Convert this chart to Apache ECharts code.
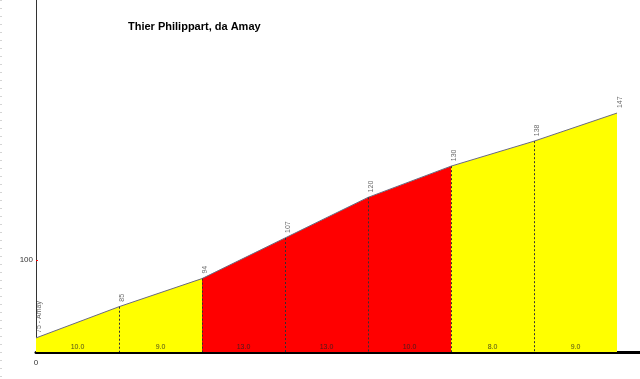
<!DOCTYPE html>
<html><head><meta charset="utf-8">
<script src="https://cdn.jsdelivr.net/npm/echarts@6/dist/echarts.min.js"></script>
<style>html,body{margin:0;padding:0;background:#fff}#c{width:640px;height:379px}</style>
</head><body><div id="c"></div>
<script>
const distances = [0, 0.1, 0.2, 0.3, 0.4, 0.5, 0.6, 0.7];
const elevations = [75, 85, 94, 107, 120, 130, 138, 147];
const pointLabels = ['75 - Amay', '85', '94', '107', '120', '130', '138', '147'];
const gradients = ['10.0', '9.0', '13.0', '13.0', '10.0', '8.0', '9.0'];
const segmentColors = ['#ffff00', '#ffff00', '#ff0000', '#ff0000', '#ff0000', '#ffff00', '#ffff00'];
const yTickLabels = [100];
const xTickLabels = [0];
const yMin = 70.5, yMax = 183.2, xMax = 0.7277;

const series = [];
for (let i = 0; i < gradients.length; i++) {
  series.push({
    type: 'line', symbol: 'none', silent: true,
    data: [[distances[i], elevations[i]], [distances[i + 1], elevations[i + 1]]],
    lineStyle: { color: '#6a6a80', width: 1 },
    areaStyle: { color: segmentColors[i], opacity: 1, origin: 'start' },
    z: 2
  });
}
const dividers = [];
for (let i = 1; i < distances.length - 1; i++) {
  dividers.push([{ coord: [distances[i], elevations[i]] }, { coord: [distances[i], yMin] }]);
}
series.push({
  type: 'scatter', symbolSize: 0, silent: true, z: 5,
  data: distances.map((d, i) => [d, elevations[i]]),
  label: {
    show: true, rotate: 90, position: 'top', distance: 5, align: 'left', verticalAlign: 'middle',
    offset: [0, 3],
    formatter: p => pointLabels[p.dataIndex], fontSize: 7, color: '#444', fontFamily: 'Liberation Sans'
  },
  markLine: {
    silent: true, symbol: 'none', label: { show: false },
    lineStyle: { type: [2, 2], color: '#333', width: 1 },
    data: dividers
  }
});
series.push({
  type: 'scatter', symbolSize: 0, silent: true, z: 5,
  data: gradients.map((g, i) => [(distances[i] + distances[i + 1]) / 2, yMin]),
  label: {
    show: true, position: 'top', distance: 1,
    formatter: p => gradients[p.dataIndex], fontSize: 7, color: '#222', fontFamily: 'Liberation Sans'
  }
});

const chart = echarts.init(document.getElementById('c'), null, { renderer: 'canvas' });
chart.setOption({
  animation: false,
  backgroundColor: '#fff',
  title: {
    text: 'Thier Philippart, da Amay', left: 123, top: 16,
    textStyle: { fontSize: 11, fontWeight: 'bold', color: '#000', fontFamily: 'Liberation Sans' }
  },
  grid: { left: 36, right: 0, top: 0, bottom: 27 },
  xAxis: {
    type: 'value', min: 0, max: xMax,
    splitLine: { show: false },
    axisLine: { show: true, onZero: false, lineStyle: { color: '#000', width: 3 } },
    axisTick: { show: false },
    axisLabel: { customValues: xTickLabels, margin: 7, fontSize: 8, color: '#333', fontFamily: 'Liberation Sans' }
  },
  yAxis: {
    type: 'value', min: yMin, max: yMax,
    splitLine: { show: false },
    axisLine: { show: true, lineStyle: { color: '#333', width: 1 } },
    axisTick: { show: true, inside: true, length: 2, customValues: yTickLabels, lineStyle: { color: '#ff0000' } },
    axisLabel: { customValues: yTickLabels, margin: 3, fontSize: 8, color: '#333', fontFamily: 'Liberation Sans' }
  },
  graphic: [{
    type: 'line', shape: { x1: 1, y1: 0, x2: 1, y2: 379 },
    style: { stroke: '#aaa', lineWidth: 1, lineDash: [1, 7] }, silent: true
  }],
  series: series
});
</script></body></html>
